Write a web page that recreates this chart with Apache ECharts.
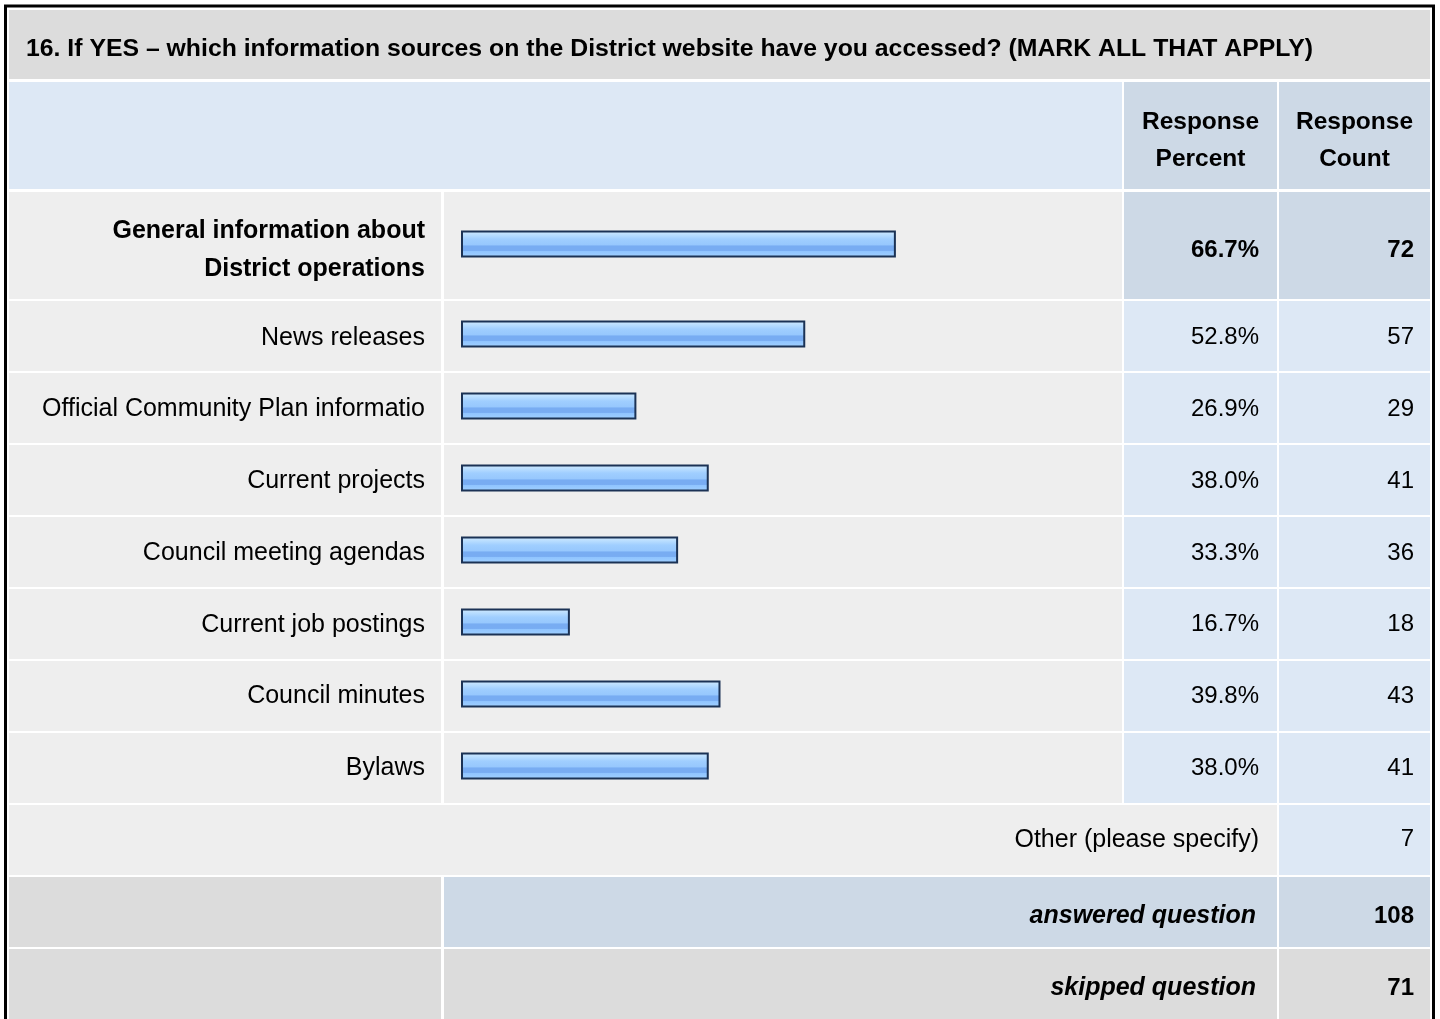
<!DOCTYPE html>
<html>
<head>
<meta charset="utf-8">
<script src="https://cdn.jsdelivr.net/npm/echarts@6/dist/echarts.min.js"></script>
<style>
html,body{margin:0;padding:0;background:#fff;}
#chart{width:1440px;height:1019px;}
</style>
</head>
<body>
<div id="chart"></div>
<script>
// ---- data ----
const titleText = '16. If YES \u2013 which information sources on the District website have you accessed? (MARK ALL THAT APPLY)';
const categories = ['General information about\nDistrict operations', 'News releases', 'Official Community Plan informatio', 'Current projects', 'Council meeting agendas', 'Current job postings', 'Council minutes', 'Bylaws'];
const percents = [66.7, 52.8, 26.9, 38.0, 33.3, 16.7, 39.8, 38.0];
const counts = [72, 57, 29, 41, 36, 18, 43, 41];
const otherLabel = 'Other (please specify)';
const otherCount = 7;
const answeredLabel = 'answered question';
const answeredCount = 108;
const skippedLabel = 'skipped question';
const skippedCount = 71;
const headerPercent = 'Response\nPercent';
const headerCount = 'Response\nCount';

// ---- layout / style ----
const FONT = '"Liberation Sans", Arial, Helvetica, sans-serif';
const FS = 24;      // numbers
const FSW = 25;     // word labels
const C_TITLE = '#dcdcdc', C_HEAD = '#dde8f5', C_CELL = '#eeeeee', C_DARK = '#cdd9e6', C_LIGHT = '#dde8f5', C_GRAY = '#dcdcdc';
const colL = [9, 441], colBar = [444, 1122], colP = [1124, 1277], colC = [1279, 1430];
const barLeft = 461, barW = 652;
const gridRight = barLeft + barW;
const pRight = 1259, cRight = 1414;
const rowH = 72;
const pct = v => v.toFixed(1) + '%';

function rect(x0, x1, y0, y1, fill) {
  return { type: 'rect', z: -10, silent: true, shape: { x: x0, y: y0, width: x1 - x0, height: y1 - y0 }, style: { fill: fill } };
}
const gfx = [];
gfx.push(rect(9, 1430, 10, 79, C_TITLE));
gfx.push(rect(9, colBar[1], 82, 189, C_HEAD));
gfx.push(rect(colP[0], colP[1], 82, 189, C_DARK));
gfx.push(rect(colC[0], colC[1], 82, 189, C_DARK));
// row 1
gfx.push(rect(colL[0], colL[1], 192, 299, C_CELL));
gfx.push(rect(colBar[0], colBar[1], 192, 299, C_CELL));
gfx.push(rect(colP[0], colP[1], 192, 299, C_DARK));
gfx.push(rect(colC[0], colC[1], 192, 299, C_DARK));
for (let i = 1; i < categories.length; i++) {
  const y0 = 301 + (i - 1) * rowH, y1 = y0 + rowH - 2;
  gfx.push(rect(colL[0], colL[1], y0, y1, C_CELL));
  gfx.push(rect(colBar[0], colBar[1], y0, y1, C_CELL));
  gfx.push(rect(colP[0], colP[1], y0, y1, C_LIGHT));
  gfx.push(rect(colC[0], colC[1], y0, y1, C_LIGHT));
}
let yb = 301 + (categories.length - 1) * rowH;
gfx.push(rect(colL[0], colP[1], yb, yb + 70, C_CELL));
gfx.push(rect(colC[0], colC[1], yb, yb + 70, C_LIGHT));
yb += rowH;
gfx.push(rect(colL[0], colL[1], yb, yb + 70, C_GRAY));
gfx.push(rect(colBar[0], colP[1], yb, yb + 70, C_DARK));
gfx.push(rect(colC[0], colC[1], yb, yb + 70, C_DARK));
yb += rowH;
gfx.push(rect(colL[0], colL[1], yb, yb + 80, C_GRAY));
gfx.push(rect(colBar[0], colP[1], yb, yb + 80, C_GRAY));
gfx.push(rect(colC[0], colC[1], yb, yb + 80, C_GRAY));
// outer border
gfx.push({ type: 'rect', z: 50, silent: true, shape: { x: 5.5, y: 6, width: 1428, height: 1100 }, style: { fill: 'none', stroke: '#000', lineWidth: 3 } });
// header texts
gfx.push({ type: 'text', z: 20, x: (colP[0] + colP[1]) / 2, y: 141, style: { text: headerPercent, font: 'bold 24.5px ' + FONT, fill: '#000', align: 'center', verticalAlign: 'middle', lineHeight: 37 } });
gfx.push({ type: 'text', z: 20, x: (colC[0] + colC[1]) / 2, y: 141, style: { text: headerCount, font: 'bold 24.5px ' + FONT, fill: '#000', align: 'center', verticalAlign: 'middle', lineHeight: 37 } });

const barGradient = new echarts.graphic.LinearGradient(0, 0, 0, 1, [
  { offset: 0, color: '#d4ebff' },
  { offset: 0.18, color: '#b6dcff' },
  { offset: 0.32, color: '#a0ceff' },
  { offset: 0.55, color: '#96c7fd' },
  { offset: 0.56, color: '#78acf2' },
  { offset: 0.74, color: '#78acf2' },
  { offset: 0.75, color: '#8ec3ff' },
  { offset: 1, color: '#a2d1ff' }
]);
const barStyle = { color: barGradient, borderColor: '#1b3255', borderWidth: 2 };

const hiddenAxis = { axisLine: { show: false }, axisTick: { show: false }, splitLine: { show: false } };
const rs = (size, extra) => Object.assign({ fontFamily: FONT, fontSize: size, color: '#000' }, extra);
const rich = {
  n: rs(FS, {}),
  w: rs(FSW, {}),
  b: rs(FS, { fontWeight: 'bold' }),
  bi: rs(FSW, { fontWeight: 'bold', fontStyle: 'italic', padding: [10, 3, 0, 0] }),
  bd: rs(FS, { fontWeight: 'bold', padding: [10, 0, 0, 0] })
};

// grid B data
const catB = categories.slice(1).concat(['', '', '']);
const pctB = percents.slice(1).map(pct).concat([otherLabel, answeredLabel, skippedLabel]);
const cntB = counts.slice(1).map(String).concat([String(otherCount), String(answeredCount), String(skippedCount)]);
const valB = percents.slice(1);

// grids: 0 = row-1 bars, 1 = row-1 texts, 2 = rows bars, 3 = rows texts
const option = {
  animation: false,
  backgroundColor: '#ffffff',
  title: {
    text: titleText, left: 26, top: 36, padding: 0,
    textStyle: { fontFamily: FONT, fontSize: 24.8, fontWeight: 'bold', color: '#000', lineHeight: 27 }
  },
  graphic: gfx,
  grid: [
    { left: barLeft, width: barW, top: 190, height: 108 },
    { left: barLeft, width: barW, top: 196, height: 108 },
    { left: barLeft, width: barW, top: 298, height: rowH * 10 },
    { left: barLeft, width: barW, top: 302, height: rowH * 10 }
  ],
  xAxis: [0, 1, 2, 3].map(g => Object.assign({ type: 'value', gridIndex: g, min: 0, max: 100, show: false }, hiddenAxis)),
  yAxis: [
    // 0: row-1 bar axis
    Object.assign({ type: 'category', gridIndex: 0, data: [categories[0]], axisLabel: { show: false } }, hiddenAxis),
    // 1-3: row-1 texts
    Object.assign({ type: 'category', gridIndex: 1, data: [categories[0]], position: 'left',
      axisLabel: { fontFamily: FONT, fontSize: FSW, fontWeight: 'bold', color: '#000', margin: 36, lineHeight: 38, align: 'right' } }, hiddenAxis),
    Object.assign({ type: 'category', gridIndex: 1, data: [pct(percents[0])], position: 'right', offset: pRight - gridRight - 10,
      axisLabel: { margin: 10, align: 'right', rich: rich, formatter: v => '{b|' + v + '}' } }, hiddenAxis),
    Object.assign({ type: 'category', gridIndex: 1, data: [String(counts[0])], position: 'right', offset: cRight - gridRight - 10,
      axisLabel: { margin: 10, align: 'right', rich: rich, formatter: v => '{b|' + v + '}' } }, hiddenAxis),
    // 4: rows bar axis
    Object.assign({ type: 'category', gridIndex: 2, data: catB, inverse: true, axisLabel: { show: false } }, hiddenAxis),
    // 5-7: rows texts
    Object.assign({ type: 'category', gridIndex: 3, data: catB, inverse: true, position: 'left',
      axisLabel: { interval: 0, margin: 36, align: 'right', fontFamily: FONT, fontSize: FSW, color: '#000' } }, hiddenAxis),
    Object.assign({ type: 'category', gridIndex: 3, data: pctB, inverse: true, position: 'right', offset: pRight - gridRight - 10,
      axisLabel: { interval: 0, margin: 10, align: 'right', rich: rich,
        formatter: (v, i) => (i >= 8 ? '{bi|' + v + '}' : i === 7 ? '{w|' + v + '}' : '{n|' + v + '}') } }, hiddenAxis),
    Object.assign({ type: 'category', gridIndex: 3, data: cntB, inverse: true, position: 'right', offset: cRight - gridRight - 10,
      axisLabel: { interval: 0, margin: 10, align: 'right', rich: rich,
        formatter: (v, i) => (i >= 8 ? '{bd|' + v + '}' : '{n|' + v + '}') } }, hiddenAxis)
  ],
  series: [
    { type: 'bar', xAxisIndex: 0, yAxisIndex: 0, data: [percents[0]], barWidth: 27, itemStyle: barStyle, silent: true },
    { type: 'bar', xAxisIndex: 2, yAxisIndex: 4, data: valB, barWidth: 27, itemStyle: barStyle, silent: true }
  ]
};

const chart = echarts.init(document.getElementById('chart'), null, { renderer: 'canvas' });
chart.setOption(option);
</script>
</body>
</html>
